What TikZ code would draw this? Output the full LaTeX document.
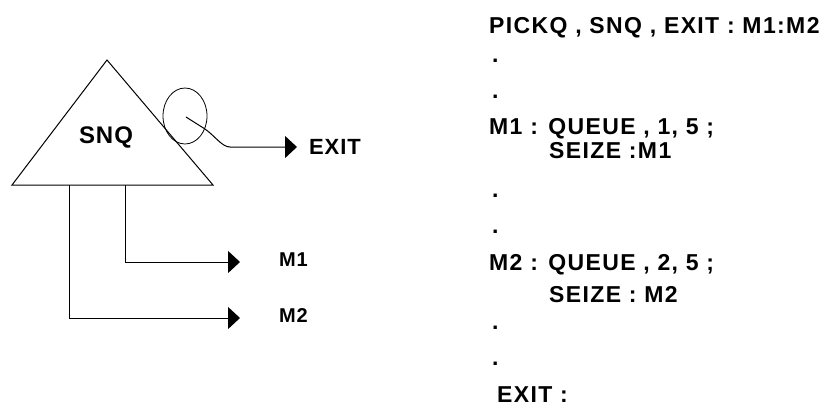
\documentclass[tikz,border=0pt]{standalone}
\usepackage{fontspec}
\setmainfont{Liberation Sans}
\newfontfamily\codefont[LetterSpace=6]{Liberation Sans Bold}
\newfontfamily\tagfont[LetterSpace=4]{Liberation Sans Bold}
\usetikzlibrary{arrows.meta,shapes.geometric}
\tikzset{
  wire/.style={draw=black, line width=1pt},
  flow/.style={wire, -{Triangle[length=12pt,width=22pt]}},
  lbl/.style={inner sep=0pt, anchor=base west, font=\tagfont\fontsize{20}{20}\selectfont},
  code/.style={inner sep=0pt, anchor=base west, font=\codefont\fontsize{23}{23}\selectfont},
}
\begin{document}
\begin{tikzpicture}[x=1pt, y=-1pt]
  \useasboundingbox[fill=white] (0,0) rectangle (834,407);

  % the SNQ block
  \coordinate (apex) at (107,60);
  \coordinate (bl) at (12,185);
  \coordinate (br) at (213,185);
  \draw[wire] (apex) -- (bl) -- (br) -- cycle;
  \node[inner sep=0pt, anchor=base, font=\tagfont\fontsize{24}{24}\selectfont] (snq) at (106,143) {SNQ};

  % exit port
  \node[draw, line width=0.8pt, ellipse, minimum width=44pt, minimum height=56pt, inner sep=0pt] (port) at (185,116) {};
  \coordinate (pc) at (186,117);
  \coordinate (bend) at (230,147);
  \node[lbl, font=\tagfont\fontsize{22}{22}\selectfont] (exit) at (309,154) {EXIT};
  \draw[flow] (pc) -- (205,129) .. controls (215,136) and (222,147) .. (bend) -- (297,147);

  % branches
  \coordinate (b1) at (125,185);
  \coordinate (b2) at (69,185);
  \node[lbl] (m1) at (279,266) {M1};
  \node[lbl] (m2) at (279,322) {M2};
  \coordinate (t1) at (240,262);
  \coordinate (t2) at (240,318);
  \draw[flow] (b1) |- (t1);
  \draw[flow] (b2) |- (t2);

  % program listing
  \node[code] (l1) at (489,33) {PICKQ , SNQ , EXIT : M1:M2};
  \node[code] (d1) at (492,62) {.};
  \node[code] (d2) at (492,98) {.};
  \node[code] (l2) at (489,134) {M1 : QUEUE , 1, 5 ;};
  \node[code] (l3) at (549,158) {SEIZE :M1};
  \node[code] (d3) at (492,197) {.};
  \node[code] (d4) at (492,233) {.};
  \node[code] (l4) at (489,270) {M2 : QUEUE , 2, 5 ;};
  \node[code] (l5) at (549,302) {SEIZE : M2};
  \node[code] (d5) at (492,329) {.};
  \node[code] (d6) at (492,365) {.};
  \node[code] (l6) at (497,402) {EXIT :};
\end{tikzpicture}
\end{document}
